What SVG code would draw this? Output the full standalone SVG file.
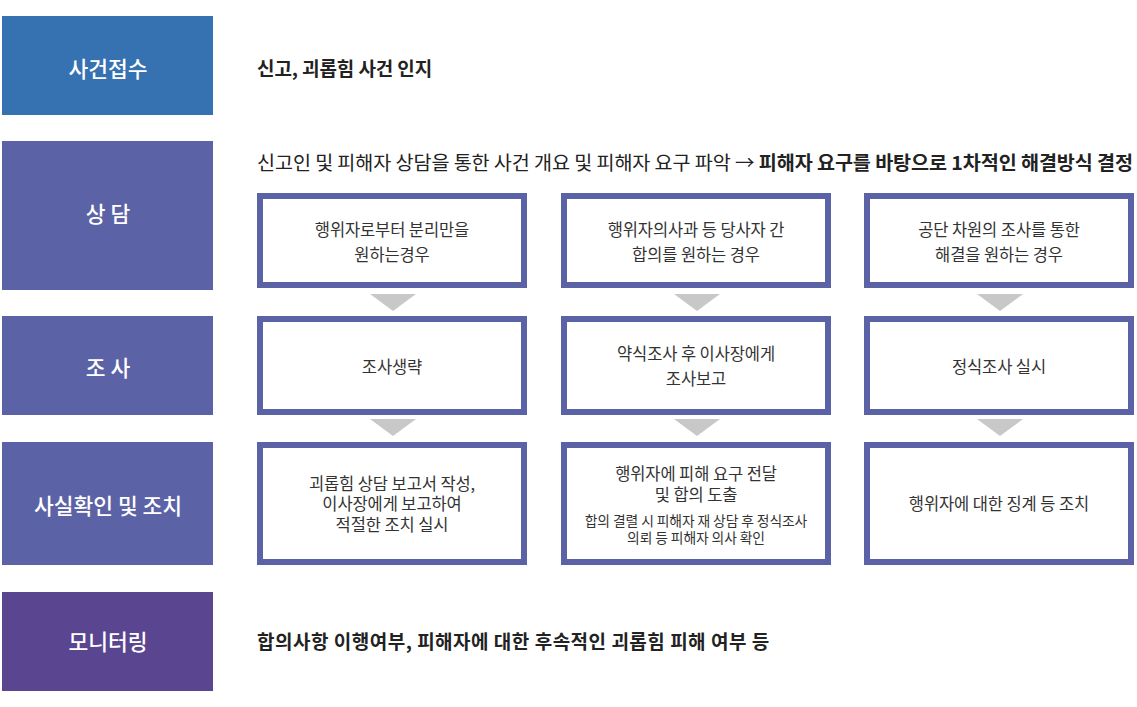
<svg xmlns="http://www.w3.org/2000/svg" width="1137" height="707" viewBox="0 0 1137 707">
<style>
.lbl{font-family:"Noto Sans CJK KR","Noto Sans",sans-serif;font-size:21.5px;font-weight:500;fill:#fff;text-anchor:middle;dominant-baseline:central}
.desc{font-family:"Noto Sans CJK KR","Noto Sans",sans-serif;font-size:19px;fill:#222;dominant-baseline:central;letter-spacing:-0.1px}
.b{font-weight:700}
.box{fill:#fff;stroke:#5b62a6;stroke-width:6}
.bt{font-family:"Noto Sans CJK KR","Noto Sans",sans-serif;font-size:16.5px;fill:#333;text-anchor:middle;dominant-baseline:central;letter-spacing:-0.1px}
.st{font-size:13.8px}
.arr{fill:#c8c8c8}
</style>
<g id="stage-receipt"><rect x="2" y="16" width="211" height="99" fill="#3672b2"/><text class="lbl" x="108" y="67">사건접수</text></g>
<g id="stage-counsel"><rect x="2" y="141" width="211" height="149" fill="#5c62a6"/><text class="lbl" x="108" y="212">상 담</text></g>
<g id="stage-investigate"><rect x="2" y="316" width="211" height="99" fill="#5c62a6"/><text class="lbl" x="108" y="366">조 사</text></g>
<g id="stage-action"><rect x="2" y="442" width="211" height="123" fill="#5c62a6"/><text class="lbl" x="108" y="504">사실확인 및 조치</text></g>
<g id="stage-monitor"><rect x="2" y="592" width="211" height="99" fill="#5a4590"/><text class="lbl" x="108" y="640">모니터링</text></g>

<g id="desc-receipt"><text class="desc b" x="257" y="67">신고, 괴롭힘 사건 인지</text></g>
<g id="desc-counsel"><text class="desc" x="257" y="161" textLength="876" lengthAdjust="spacingAndGlyphs">신고인 및 피해자 상담을 통한 사건 개요 및 피해자 요구 파악 → <tspan class="b">피해자 요구를 바탕으로 1차적인 해결방식 결정</tspan></text></g>
<g id="desc-monitor"><text class="desc b" x="257" y="640" style="letter-spacing:0.5px">합의사항 이행여부, 피해자에 대한 후속적인 괴롭힘 피해 여부 등</text></g>

<g id="n-a1"><rect class="box" x="260" y="196" width="264" height="89"/><text class="bt" x="392" y="229">행위자로부터 분리만을</text><text class="bt" x="392" y="254">원하는경우</text></g>
<g id="n-b1"><rect class="box" x="564" y="196" width="264" height="89"/><text class="bt" x="696" y="229">행위자의사과 등 당사자 간</text><text class="bt" x="696" y="254">합의를 원하는 경우</text></g>
<g id="n-c1"><rect class="box" x="867" y="196" width="264" height="89"/><text class="bt" x="999" y="229">공단 차원의 조사를 통한</text><text class="bt" x="999" y="254">해결을 원하는 경우</text></g>

<g id="n-a2"><rect class="box" x="260" y="319" width="264" height="93"/><text class="bt" x="392" y="366">조사생략</text></g>
<g id="n-b2"><rect class="box" x="564" y="319" width="264" height="93"/><text class="bt" x="696" y="353">약식조사 후 이사장에게</text><text class="bt" x="696" y="378">조사보고</text></g>
<g id="n-c2"><rect class="box" x="867" y="319" width="264" height="93"/><text class="bt" x="999" y="366">정식조사 실시</text></g>

<g id="n-a3"><rect class="box" x="260" y="445" width="264" height="117"/><text class="bt" x="392" y="483">괴롭힘 상담 보고서 작성,</text><text class="bt" x="392" y="503">이사장에게 보고하여</text><text class="bt" x="392" y="524">적절한 조치 실시</text></g>
<g id="n-b3"><rect class="box" x="564" y="445" width="264" height="117"/><text class="bt" x="696" y="473">행위자에 피해 요구 전달</text><text class="bt" x="696" y="494">및 합의 도출</text><text class="bt st" x="696" y="520">합의 결렬 시 피해자 재 상담 후 정식조사</text><text class="bt st" x="696" y="537">의뢰 등 피해자 의사 확인</text></g>
<g id="n-c3"><rect class="box" x="867" y="445" width="264" height="117"/><text class="bt" x="999" y="503">행위자에 대한 징계 등 조치</text></g>

<g id="connectors">
<polygon class="arr" points="370,294 416,294 393,311"/>
<polygon class="arr" points="674,294 720,294 697,311"/>
<polygon class="arr" points="977,294 1023,294 1000,311"/>
<polygon class="arr" points="370,419 416,419 393,436"/>
<polygon class="arr" points="674,419 720,419 697,436"/>
<polygon class="arr" points="977,419 1023,419 1000,436"/>
</g>
</svg>
